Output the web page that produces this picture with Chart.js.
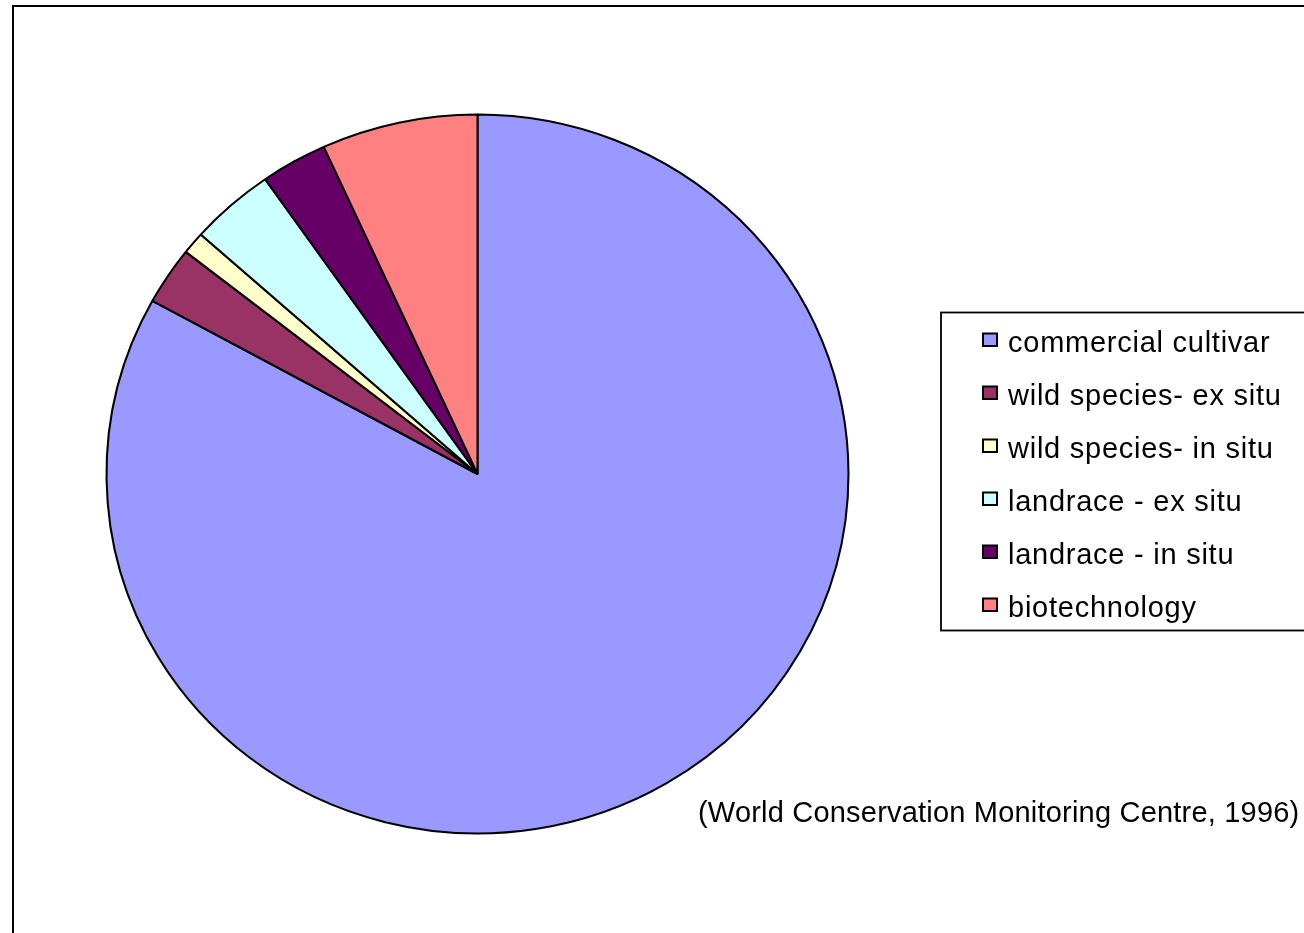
<!DOCTYPE html>
<html>
<head>
<meta charset="utf-8">
<style>
  html, body { margin: 0; padding: 0; background: #fff; }
  #wrap { width: 1304px; height: 933px; }
</style>
<script src="https://cdn.jsdelivr.net/npm/chart.js@4/dist/chart.umd.min.js"></script>
</head>
<body>
<div id="wrap"><canvas id="c" width="1304" height="933"></canvas></div>
<script>
// Share of genetic resource sources (percent)
const categories = [
  'commercial cultivar',
  'wild species- ex situ',
  'wild species- in situ',
  'landrace - ex situ',
  'landrace - in situ',
  'biotechnology'
];
const shares = [83, 2.6, 1, 3.7, 2.9, 6.8];
const sliceColors = ['#9999FF', '#993366', '#FFFFCC', '#CCFFFF', '#660066', '#FF8080'];
const sourceNote = '(World Conservation Monitoring Centre, 1996)';

const FONT = '"Liberation Sans", Arial, sans-serif';
const STRETCH_X = 371.5 / 360; // pie is drawn slightly wider than tall

// Widen the pie horizontally around its centre
const stretchPlugin = {
  id: 'stretch',
  beforeDatasetsDraw(chart) {
    const a = chart.chartArea;
    const cx = (a.left + a.right) / 2, cy = (a.top + a.bottom) / 2;
    const ctx = chart.ctx;
    ctx.save();
    ctx.translate(cx, cy);
    ctx.scale(STRETCH_X, 1);
    ctx.translate(-cx, -cy);
  },
  afterDatasetsDraw(chart) {
    chart.ctx.restore();
  }
};

// Outer frame, boxed legend and the source note
const decorPlugin = {
  id: 'decor',
  afterDraw(chart) {
    const ctx = chart.ctx;
    ctx.save();
    // frame
    ctx.strokeStyle = '#000';
    ctx.lineWidth = 2;
    ctx.strokeRect(13, 6, 1400, 1000);

    // legend box
    ctx.lineWidth = 1.8;
    ctx.strokeRect(941, 312.5, 420, 318);

    const labels = chart.data.labels;
    const colors = chart.data.datasets[0].backgroundColor;
    ctx.font = '29px ' + FONT;
    ctx.letterSpacing = '0.75px';
    ctx.textBaseline = 'alphabetic';
    ctx.textAlign = 'left';
    labels.forEach((lab, i) => {
      const base = 352 + i * 53;
      ctx.fillStyle = colors[i];
      ctx.fillRect(983, base - 18.5, 14, 12.5);
      ctx.lineWidth = 2;
      ctx.strokeStyle = '#000';
      ctx.strokeRect(983, base - 18.5, 14, 12.5);
      ctx.fillStyle = '#000';
      ctx.fillText(lab, 1008, base);
    });

    // source note
    ctx.font = '29px ' + FONT;
    ctx.letterSpacing = '0.2px';
    ctx.fillText(sourceNote, 698, 822);
    ctx.restore();
  }
};

new Chart(document.getElementById('c'), {
  type: 'pie',
  data: {
    labels: categories,
    datasets: [{
      data: shares,
      backgroundColor: sliceColors,
      borderColor: '#000',
      borderWidth: 2,
      borderAlign: 'center',
      clip: false
    }]
  },
  options: {
    responsive: false,
    animation: false,
    devicePixelRatio: 1,
    rotation: 0,
    layout: { padding: { left: 117, right: 466, top: 113, bottom: 98 } },
    plugins: {
      legend: { display: false },
      tooltip: { enabled: false },
      title: { display: false }
    },
    events: []
  },
  plugins: [stretchPlugin, decorPlugin]
});
</script>
</body>
</html>
